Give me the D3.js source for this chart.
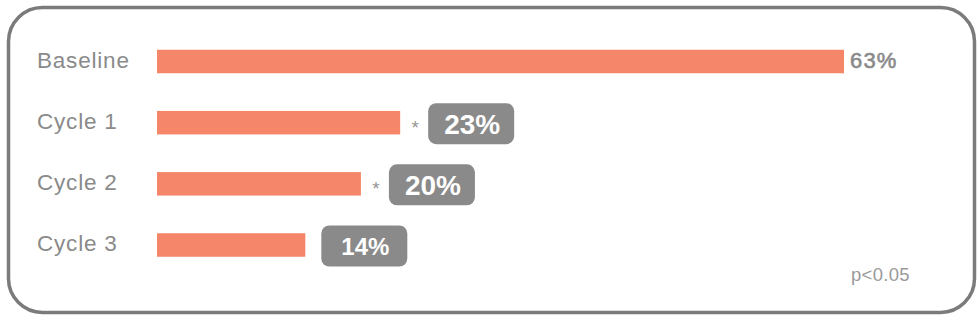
<!DOCTYPE html>
<html><head><meta charset="utf-8">
<script src="https://cdn.jsdelivr.net/npm/d3@7"></script>
<style>html,body{margin:0;padding:0;background:#fff;}svg{display:block;}</style>
</head><body>
<svg id="chart" width="980" height="320"></svg>
<script>
const categories = ["Baseline", "Cycle 1", "Cycle 2", "Cycle 3"];
const values = [63, 22.3, 18.7, 13.6];
const valueLabels = ["63%", "23%", "20%", "14%"];
const significant = [false, true, true, false];
const footnote = "p<0.05";

const svg = d3.select("#chart");
const font = "'Liberation Sans', Arial, Helvetica, sans-serif";

svg.append("rect")
  .attr("x", 8.5).attr("y", 7.5).attr("width", 966).attr("height", 305)
  .attr("rx", 34).attr("ry", 34)
  .attr("fill", "#fff").attr("stroke", "#7b7b7b").attr("stroke-width", 3.5);

const x = d3.scaleLinear().domain([0, 63]).range([157, 844]);
const y = d3.scalePoint().domain(categories).range([61.5, 245]);
const barH = 23.5;

const data = categories.map((c, i) => ({c, v: values[i], lab: valueLabels[i], sig: significant[i], i}));

svg.selectAll("text.cat").data(data).join("text")
  .attr("class", "cat")
  .attr("x", 37).attr("y", d => y(d.c) + 6)
  .attr("font-family", font).attr("font-size", 22.5).attr("fill", "#8a8a8a")
  .attr("letter-spacing", 0.8)
  .text(d => d.c);

svg.selectAll("rect.bar").data(data).join("rect")
  .attr("class", "bar")
  .attr("x", x(0)).attr("y", d => y(d.c) - barH / 2)
  .attr("width", d => x(d.v) - x(0)).attr("height", barH)
  .attr("fill", "#f5866a");

// first value: plain text
data.filter(d => d.i === 0).forEach(d => {
  svg.append("text")
    .attr("x", x(d.v) + 6).attr("y", y(d.c) + 6)
    .attr("font-family", font).attr("font-size", 22)
    .attr("letter-spacing", 1.2)
    .attr("stroke", "#8a8a8a").attr("stroke-width", 0.6)
    .attr("fill", "#8a8a8a").text(d.lab);
});

// others: badges
data.filter(d => d.i > 0).forEach(d => {
  const end = x(d.v);
  const cy = y(d.c);
  let bx = end + 16;
  if (d.sig) {
    svg.append("text")
      .attr("x", end + 15).attr("y", cy + 11)
      .attr("text-anchor", "middle")
      .attr("font-family", font).attr("font-size", 19).attr("fill", "#959595")
      .text("*");
    bx = end + 28;
  }
  const bw = 86, bh = 41;
  svg.append("rect")
    .attr("x", bx).attr("y", cy - bh / 2 + 1).attr("width", bw).attr("height", bh)
    .attr("rx", 8).attr("ry", 8).attr("fill", "#8a8a8a");
  svg.append("text")
    .attr("x", bx + bw / 2 + 1).attr("y", cy + 1 + (d.i === 3 ? 8.5 : 10))
    .attr("text-anchor", "middle")
    .attr("font-family", font).attr("font-weight", "bold")
    .attr("font-size", d.i === 3 ? 24 : 28).attr("fill", "#fff")
    .text(d.lab);
});

svg.append("text")
  .attr("x", 851).attr("y", 281)
  .attr("font-family", font).attr("font-size", 18.5).attr("fill", "#9a9a9a")
  .attr("letter-spacing", 0.3)
  .text(footnote);
</script>
</body></html>
